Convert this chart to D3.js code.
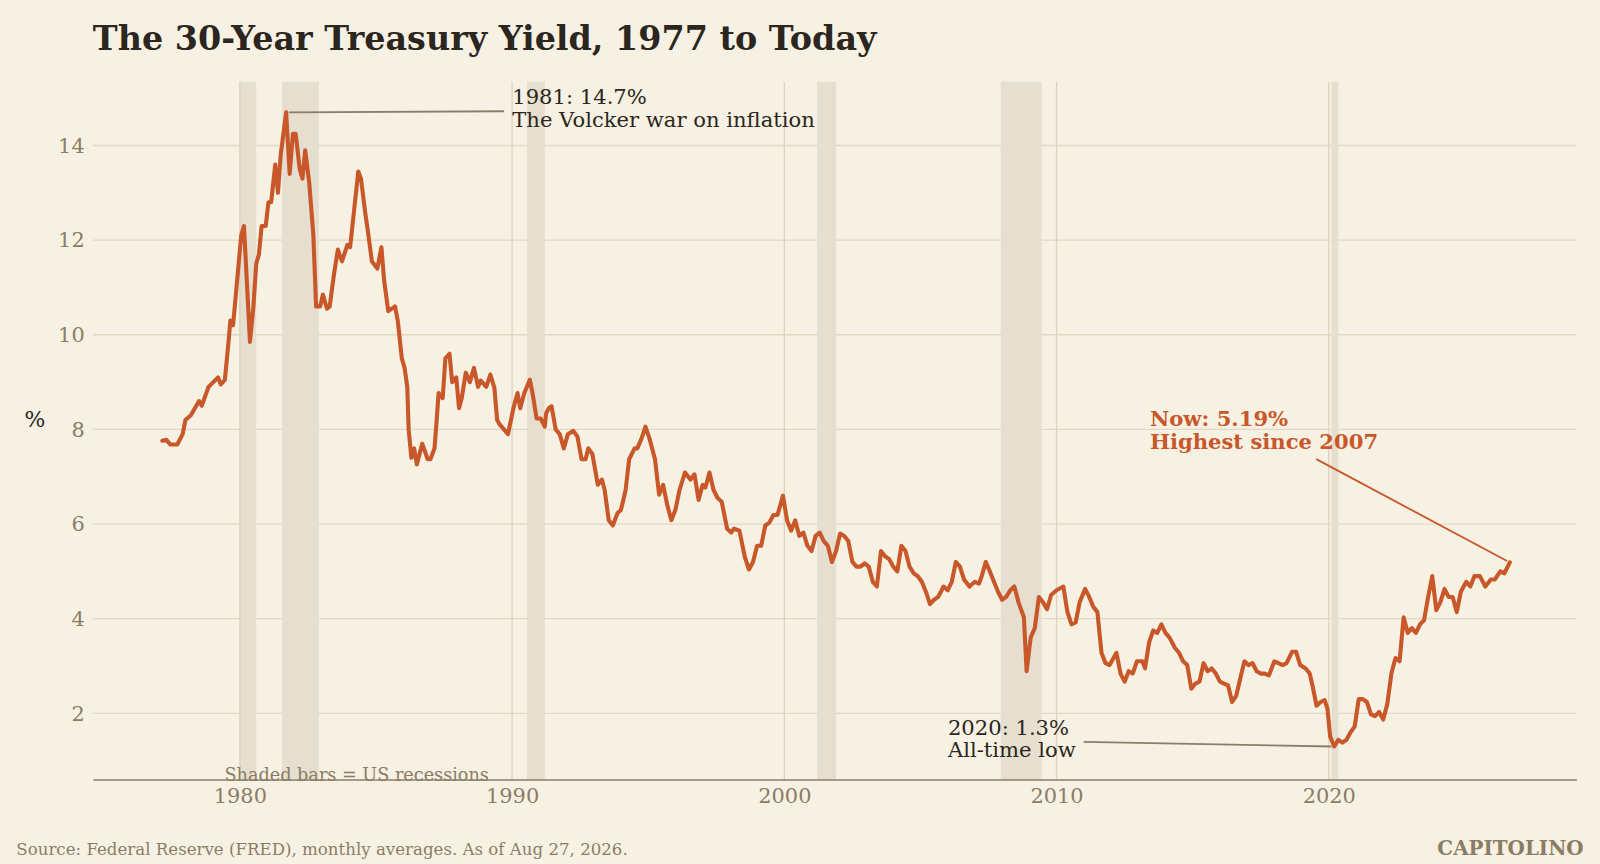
<!DOCTYPE html>
<html><head><meta charset="utf-8">
<script src="https://cdn.jsdelivr.net/npm/d3@7"></script>
<style>body{margin:0;background:#f7f1e3;}svg{display:block;font-family:"DejaVu Serif",serif;}</style>
</head><body><svg id="c" width="1600" height="864"></svg>
<script>
const years = [1977.15,1977.3,1977.45,1977.7,1977.9,1978.0,1978.2,1978.5,1978.6,1978.85,1979.2,1979.3,1979.45,1979.6,1979.65,1979.75,1980.05,1980.15,1980.25,1980.37,1980.5,1980.6,1980.7,1980.8,1980.95,1981.05,1981.15,1981.3,1981.4,1981.5,1981.7,1981.83,1981.95,1982.05,1982.2,1982.3,1982.4,1982.55,1982.7,1982.8,1982.95,1983.05,1983.2,1983.3,1983.45,1983.6,1983.75,1983.95,1984.05,1984.2,1984.35,1984.45,1984.6,1984.7,1984.85,1985.05,1985.2,1985.3,1985.45,1985.7,1985.8,1985.95,1986.05,1986.15,1986.2,1986.3,1986.4,1986.5,1986.7,1986.9,1987.0,1987.15,1987.23,1987.3,1987.45,1987.55,1987.7,1987.8,1987.95,1988.05,1988.15,1988.3,1988.45,1988.6,1988.75,1988.85,1989.05,1989.2,1989.35,1989.45,1989.55,1989.7,1989.85,1990.05,1990.2,1990.3,1990.45,1990.65,1990.75,1990.9,1991.05,1991.2,1991.25,1991.35,1991.45,1991.6,1991.75,1991.9,1992.05,1992.25,1992.4,1992.55,1992.7,1992.8,1992.95,1993.15,1993.3,1993.4,1993.55,1993.7,1993.87,1994.0,1994.17,1994.3,1994.5,1994.6,1994.75,1994.9,1995.05,1995.25,1995.4,1995.55,1995.7,1995.85,1996.0,1996.15,1996.35,1996.55,1996.7,1996.85,1997.0,1997.1,1997.25,1997.4,1997.55,1997.7,1997.9,1998.05,1998.15,1998.35,1998.55,1998.7,1998.85,1999.0,1999.15,1999.3,1999.45,1999.6,1999.75,1999.95,2000.1,2000.25,2000.4,2000.55,2000.7,2000.85,2001.0,2001.15,2001.3,2001.45,2001.6,2001.75,2001.9,2002.05,2002.2,2002.35,2002.5,2002.65,2002.8,2002.95,2003.1,2003.25,2003.4,2003.55,2003.7,2003.85,2004.0,2004.15,2004.3,2004.45,2004.6,2004.75,2004.9,2005.05,2005.2,2005.35,2005.5,2005.65,2005.85,2006.0,2006.15,2006.3,2006.45,2006.6,2006.8,2007.0,2007.15,2007.25,2007.4,2007.55,2007.7,2007.85,2008.0,2008.15,2008.3,2008.45,2008.6,2008.8,2008.9,2009.05,2009.2,2009.35,2009.5,2009.65,2009.8,2010.0,2010.25,2010.4,2010.55,2010.7,2010.85,2011.05,2011.2,2011.35,2011.5,2011.65,2011.8,2011.95,2012.2,2012.35,2012.5,2012.65,2012.8,2012.95,2013.15,2013.25,2013.4,2013.55,2013.7,2013.85,2014.0,2014.15,2014.35,2014.5,2014.65,2014.8,2014.95,2015.1,2015.25,2015.4,2015.55,2015.7,2015.85,2016.0,2016.15,2016.3,2016.45,2016.6,2016.75,2016.9,2017.05,2017.2,2017.35,2017.5,2017.65,2017.8,2018.0,2018.15,2018.3,2018.45,2018.65,2018.8,2018.95,2019.15,2019.3,2019.4,2019.55,2019.7,2019.85,2019.95,2020.05,2020.2,2020.35,2020.5,2020.65,2020.8,2020.95,2021.1,2021.25,2021.4,2021.55,2021.7,2021.85,2022.0,2022.15,2022.3,2022.45,2022.6,2022.75,2022.9,2023.05,2023.2,2023.35,2023.5,2023.65,2023.8,2023.95,2024.1,2024.25,2024.4,2024.55,2024.7,2024.85,2025.05,2025.2,2025.35,2025.55,2025.75,2025.95,2026.1,2026.3,2026.45,2026.65];
const yields = [7.76,7.78,7.68,7.68,7.9,8.2,8.3,8.6,8.5,8.9,9.1,8.95,9.05,9.95,10.3,10.2,12.1,12.3,11.2,9.85,10.6,11.5,11.7,12.3,12.3,12.8,12.8,13.6,13.0,13.8,14.7,13.4,14.25,14.25,13.5,13.3,13.9,13.2,12.1,10.6,10.6,10.85,10.55,10.6,11.25,11.8,11.55,11.9,11.85,12.65,13.45,13.3,12.6,12.2,11.55,11.4,11.85,11.15,10.5,10.6,10.3,9.5,9.3,8.9,8.0,7.4,7.6,7.26,7.7,7.37,7.37,7.6,8.2,8.77,8.66,9.5,9.6,9.0,9.1,8.45,8.66,9.2,9.0,9.3,8.9,9.03,8.9,9.16,8.88,8.2,8.1,8.0,7.9,8.45,8.77,8.45,8.77,9.05,8.77,8.23,8.23,8.06,8.34,8.45,8.49,8.0,7.9,7.6,7.9,7.97,7.85,7.37,7.37,7.6,7.48,6.83,6.94,6.72,6.08,5.97,6.23,6.3,6.72,7.37,7.6,7.6,7.8,8.06,7.8,7.37,6.62,6.83,6.4,6.08,6.3,6.72,7.09,6.94,7.05,6.51,6.83,6.77,7.09,6.72,6.55,6.47,5.9,5.82,5.9,5.86,5.3,5.04,5.2,5.54,5.54,5.97,6.03,6.19,6.19,6.6,6.08,5.86,6.08,5.75,5.82,5.54,5.43,5.75,5.82,5.64,5.54,5.2,5.43,5.8,5.75,5.64,5.2,5.1,5.1,5.17,5.1,4.78,4.68,5.43,5.32,5.26,5.1,5.0,5.54,5.43,5.1,4.96,4.9,4.78,4.57,4.31,4.4,4.46,4.68,4.6,4.78,5.2,5.1,4.83,4.68,4.78,4.74,4.9,5.2,5.0,4.78,4.57,4.4,4.46,4.6,4.68,4.35,4.03,2.89,3.6,3.8,4.46,4.35,4.2,4.5,4.6,4.68,4.14,3.88,3.92,4.35,4.63,4.46,4.25,4.14,3.28,3.06,3.02,3.28,2.84,2.67,2.89,2.84,3.1,3.1,2.95,3.5,3.75,3.7,3.88,3.7,3.6,3.38,3.28,3.1,3.02,2.52,2.63,2.67,3.06,2.89,2.95,2.84,2.67,2.63,2.59,2.24,2.37,2.74,3.1,3.02,3.06,2.89,2.84,2.84,2.8,3.1,3.06,3.02,3.06,3.3,3.3,3.02,2.95,2.84,2.59,2.16,2.24,2.28,2.1,1.51,1.3,1.44,1.38,1.44,1.6,1.72,2.3,2.3,2.24,1.98,1.94,2.03,1.87,2.2,2.84,3.17,3.1,4.03,3.7,3.8,3.7,3.88,3.97,4.46,4.9,4.18,4.35,4.63,4.46,4.46,4.14,4.57,4.78,4.68,4.9,4.9,4.68,4.83,4.83,5.0,4.96,5.19];
const recessionStart = [1980.0,1981.55,1990.55,2001.2,2007.95,2020.1];
const recessionEnd   = [1980.6,1982.9,1991.2,2001.9,2009.45,2020.35];
const yTicks = [2,4,6,8,10,12,14];
const xTicks = [1980,1990,2000,2010,2020];

const root = d3.select("#c");
root.append("rect").attr("width",1600).attr("height",864).attr("fill","#f7f1e3");
const svg = root.append("g").attr("transform","scale(1.0204)");
const L=91,R=1545,T=80,B=764;
const x = d3.scaleLinear().domain([1974.6,2029.1]).range([L,R]);
const y = d3.scaleLinear().domain([0.6,15.35]).range([B,T]);

svg.append("g").selectAll("line").data(yTicks).join("line")
  .attr("x1",L).attr("x2",R).attr("y1",d=>y(d)).attr("y2",d=>y(d))
  .attr("stroke","#e3d9c3").attr("stroke-width",1.3);
svg.append("g").selectAll("rect").data(recessionStart).join("rect")
  .attr("x",d=>x(d)).attr("width",(d,i)=>x(recessionEnd[i])-x(d))
  .attr("y",T).attr("height",B-T).attr("fill","#e6dece");
svg.append("g").selectAll("line").data(xTicks).join("line")
  .attr("x1",d=>x(d)).attr("x2",d=>x(d)).attr("y1",T).attr("y2",B)
  .attr("stroke","#ddd3bd").attr("stroke-width",1.3);

const ya = svg.append("g").attr("transform",`translate(${L},0)`)
  .call(d3.axisLeft(y).tickValues(yTicks).tickSize(0).tickPadding(8));
ya.select(".domain").remove();
ya.selectAll("text").attr("font-family","DejaVu Serif").attr("font-size",20.5).attr("fill","#8b7d65");
const xa = svg.append("g").attr("transform",`translate(0,${B})`)
  .call(d3.axisBottom(x).tickValues(xTicks).tickFormat(d3.format("d")).tickSize(0).tickPadding(8));
xa.select(".domain").attr("stroke","#8a7e6a").attr("stroke-width",1.5);
xa.selectAll("text").attr("font-family","DejaVu Serif").attr("font-size",20.5).attr("fill","#8b7d65");

const data = years.map((d,i)=>[d,yields[i]]);
svg.append("path").datum(data).attr("fill","none").attr("stroke","#c8572a")
  .attr("stroke-width",4).attr("stroke-linejoin","round").attr("stroke-linecap","round")
  .attr("d",d3.line().x(d=>x(d[0])).y(d=>y(d[1])));

svg.append("text").attr("x",91).attr("y",49).attr("font-size",32.7).attr("font-weight","bold").attr("fill","#2b2620").text("The 30-Year Treasury Yield, 1977 to Today");
svg.append("text").attr("x",24).attr("y",418).attr("font-size",21.5).attr("fill","#2b2620").text("%");
svg.append("text").attr("x",220).attr("y",765).attr("font-size",17.3).attr("fill","#8b7d65").text("Shaded bars = US recessions");
svg.append("text").attr("x",16).attr("y",838).attr("font-size",16.3).attr("fill","#8b7d65").text("Source: Federal Reserve (FRED), monthly averages. As of Aug 27, 2026.");
svg.append("text").attr("x",1552).attr("y",838).attr("text-anchor","end").attr("font-size",19.5).attr("font-weight","bold").attr("fill","#8b7d65").text("CAPITOLINO");

const ann = svg.append("g").attr("font-size",20.7).attr("fill","#2b2620");
ann.append("line").attr("x1",x(1981.8)).attr("y1",y(14.7)).attr("x2",494).attr("y2",109).attr("stroke","#8a7e6a").attr("stroke-width",1.8);
ann.append("text").attr("x",502).attr("y",102).text("1981: 14.7%");
ann.append("text").attr("x",502).attr("y",124).text("The Volcker war on inflation");
ann.append("line").attr("x1",1062).attr("y1",727).attr("x2",x(2020.1)).attr("y2",y(1.3)).attr("stroke","#8a7e6a").attr("stroke-width",1.8);
ann.append("text").attr("x",929).attr("y",720).text("2020: 1.3%");
ann.append("text").attr("x",929).attr("y",742).text("All-time low");
ann.append("line").attr("x1",1290).attr("y1",450).attr("x2",x(2026.55)).attr("y2",y(5.22)).attr("stroke","#c8572a").attr("stroke-width",1.8);
ann.append("text").attr("x",1127).attr("y",417).attr("font-weight","bold").attr("fill","#c8572a").text("Now: 5.19%");
ann.append("text").attr("x",1127).attr("y",440).attr("font-weight","bold").attr("fill","#c8572a").text("Highest since 2007");
</script></body></html>
